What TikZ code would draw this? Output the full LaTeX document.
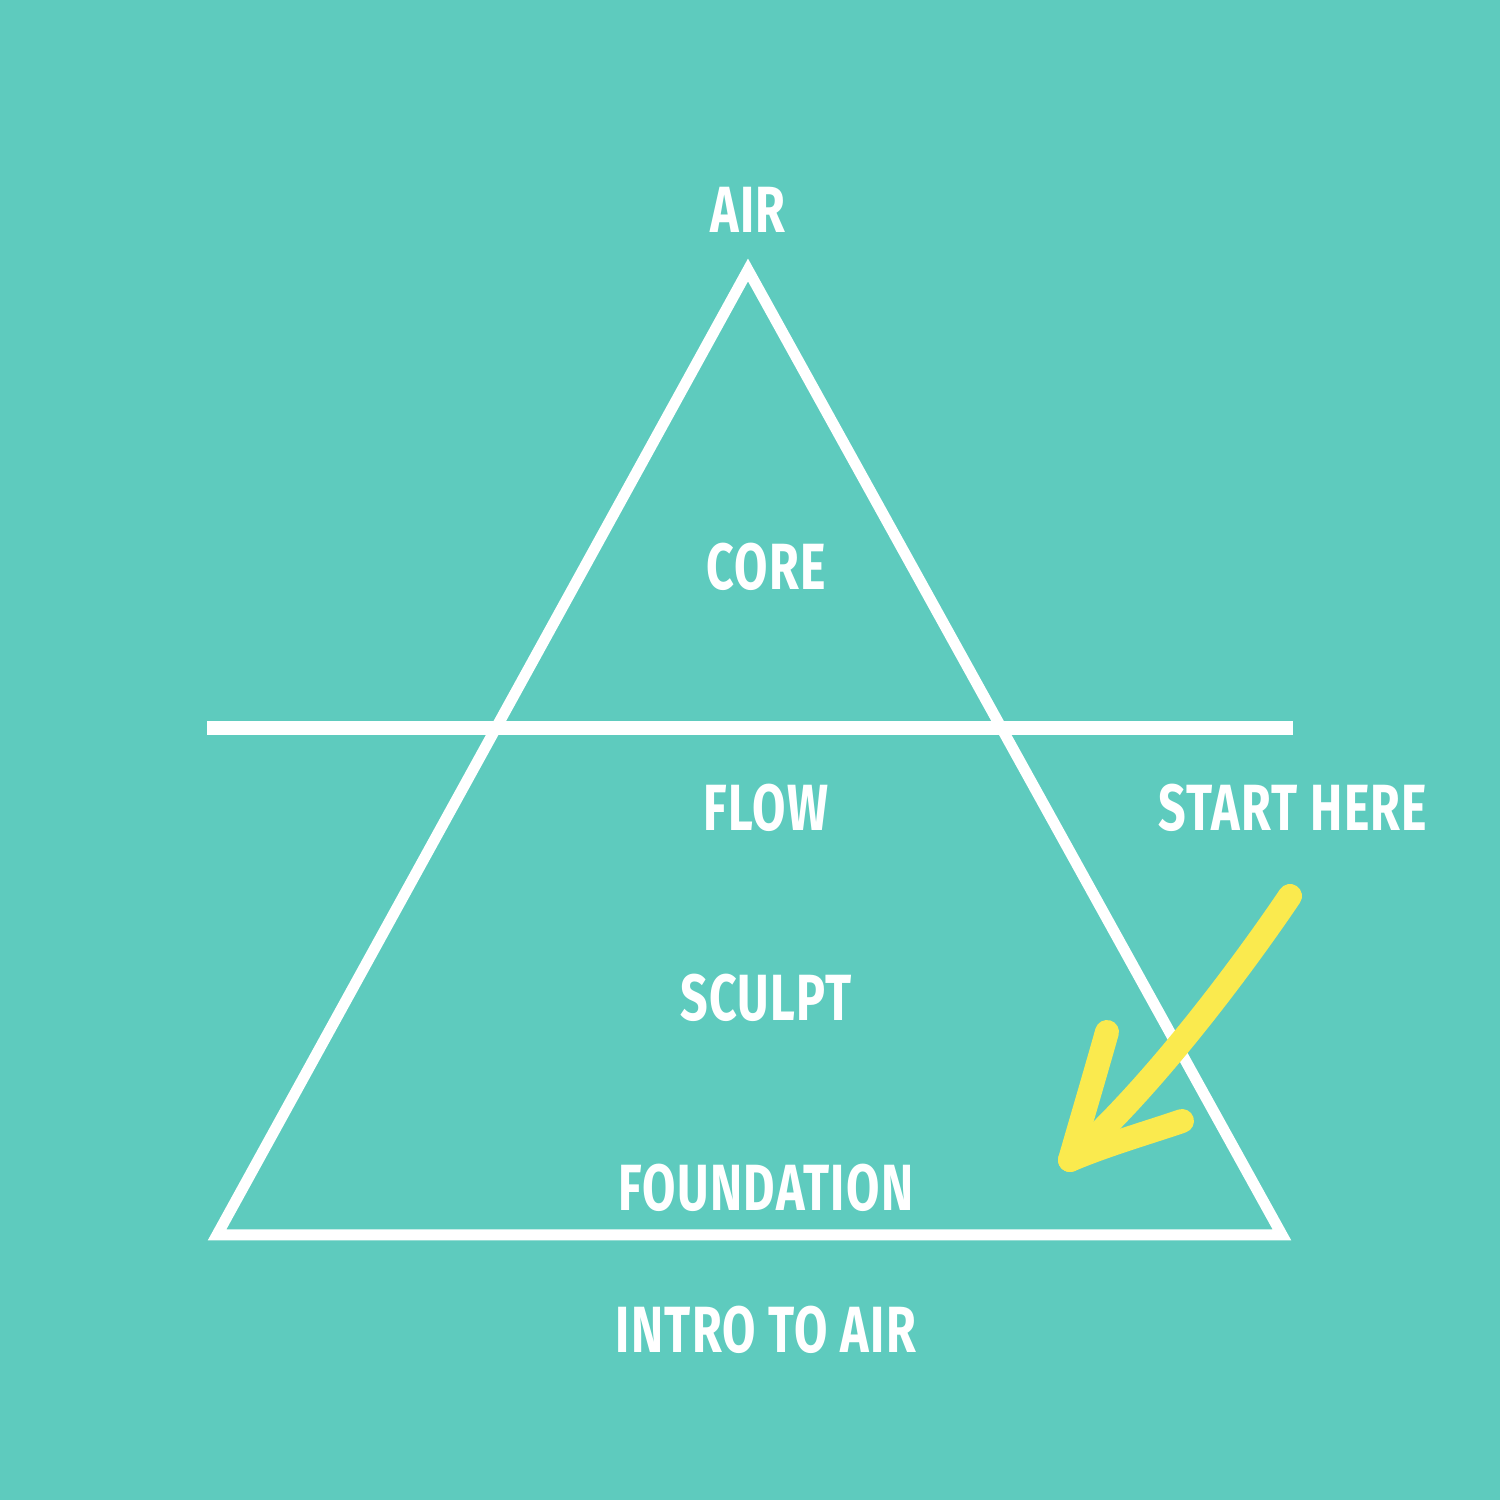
\documentclass[tikz,border=0pt]{standalone}
\usepackage{fontspec}
\newfontfamily\pyrfont[FakeStretch=0.74,LetterSpace=2]{Fira Sans}
\usepackage{xcolor}
\usepackage{tikz}
\usetikzlibrary{positioning,calc}

\definecolor{teal}{RGB}{94,203,190}
\definecolor{marker}{RGB}{250,234,78}

\begin{document}
\begin{tikzpicture}[
    line join=miter,
    edge/.style={draw=white, line width=0.11cm},
    divider/.style={draw=white, line width=0.14cm, line cap=butt},
    level/.style={text=white, inner sep=0pt, font=\pyrfont\bfseries\fontsize{18.6}{20}\selectfont},
    scrawl/.style={draw=marker, line width=0.24cm, line cap=round, line join=round},
  ]

  % ---------- canvas ----------
  \useasboundingbox (0,0) rectangle (15,15);
  \fill[teal] (0,0) rectangle (15,15);

  % ---------- geometry constants ----------
  \def\apx{7.48}\def\apy{12.30}      % apex
  \def\bl{2.17}\def\br{12.82}\def\by{2.65}  % base corners
  \def\hy{7.72}                      % divider height

  % ---------- PYRAMID ----------
  \draw[edge] (\apx,\apy) -- (\br,\by) -- (\bl,\by) -- cycle;
  \draw[divider] (2.07,\hy) -- (12.93,\hy);

  % ---------- LABELS ----------
  \node[level] (air)   at (7.48,12.90) {AIR};
  \node[level] (core)  at (7.66,9.33)  {CORE};
  \node[level] (flow)  at (7.66,6.92)  {FLOW};
  \node[level] (start) at (12.93,6.92) {START HERE};
  \node[level] (sculpt) at (7.66,5.02) {SCULPT};
  \node[level] (found) at (7.66,3.12)  {FOUNDATION};
  \node[level] (intro) at (7.66,1.70)  {INTRO TO AIR};

  % ---------- hand-drawn arrow ----------
  \coordinate (tail) at (12.90,6.04);
  \coordinate (tip)  at (10.70,3.40);
  \draw[scrawl] (tail) .. controls (12.40,5.30) and (11.50,4.10) .. (tip);
  \draw[scrawl] (11.07,4.68) .. controls (10.92,4.15) and (10.80,3.75) .. (tip);
  \draw[scrawl] (tip) .. controls (11.05,3.55) and (11.50,3.68) .. (11.82,3.79);

\end{tikzpicture}
\end{document}
